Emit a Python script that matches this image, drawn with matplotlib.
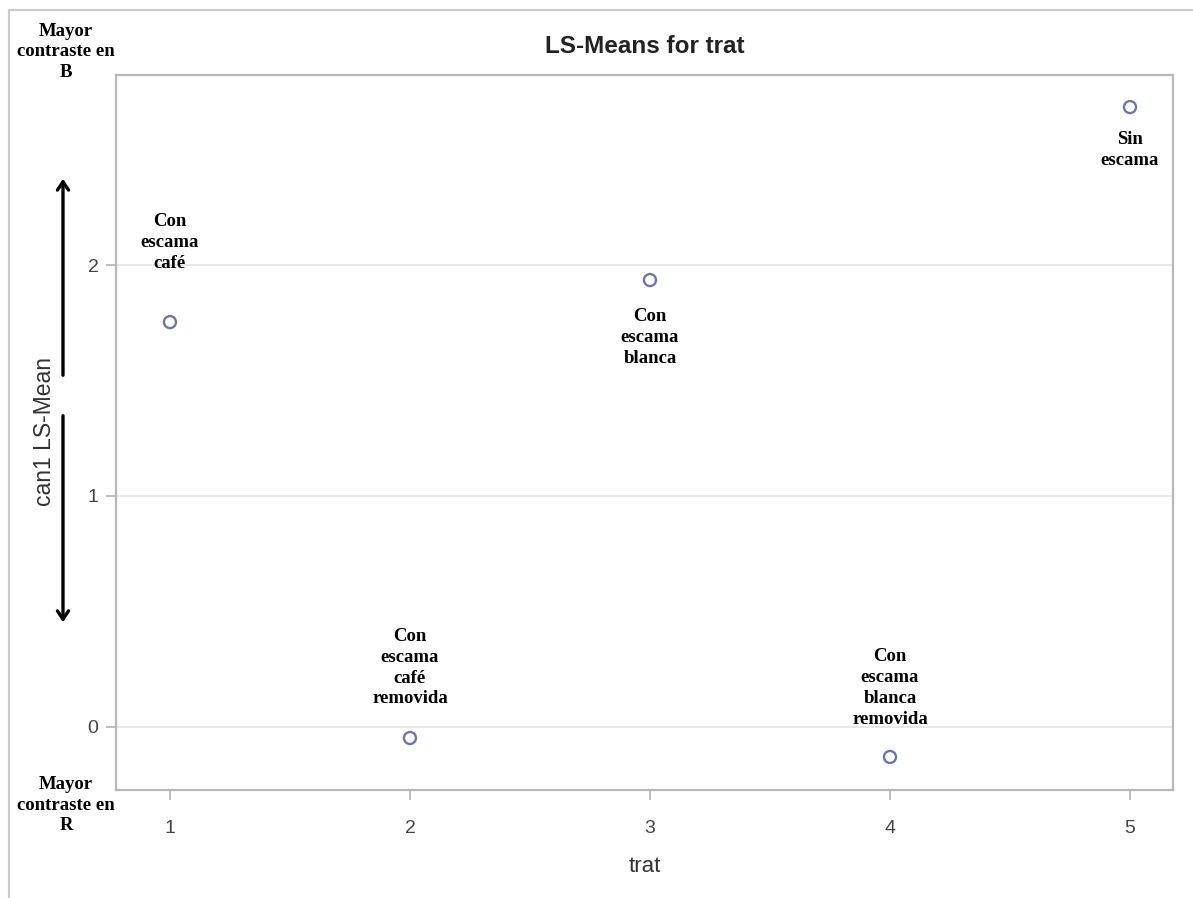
import matplotlib
matplotlib.use("Agg")
import matplotlib.pyplot as plt
from matplotlib.lines import Line2D

# Données
trat = [1, 2, 3, 4, 5]
can1_lsmean = [1.753, -0.048, 1.935, -0.13, 2.684]
etiquettes = [
    "Con\nescama\ncafé",
    "Con\nescama\ncafé\nremovida",
    "Con\nescama\nblanca",
    "Con\nescama\nblanca\nremovida",
    "Sin\nescama",
]
# décalage vertical des étiquettes (points) : + au-dessus, - en dessous
decalages = [36, 22, -20, 21, -17]
yticks = [0, 1, 2]
xticks = [1, 2, 3, 4, 5]

fig = plt.figure(figsize=(11.93, 8.98), dpi=100)
ax = fig.add_axes([0.0972, 0.1203, 0.886, 0.7962])

gris = "#b8b8b8"
sans = "Liberation Sans"
serif = dict(family="Liberation Serif", fontweight="bold", fontsize=13.5, linespacing=1.3)

ax.scatter(trat, can1_lsmean, s=75, facecolors="none", edgecolors="#6b76b0",
           linewidths=1.7, zorder=3)

for x, y, txt, d in zip(trat, can1_lsmean, etiquettes, decalages):
    ax.annotate(txt, (x, y), xytext=(0, d), textcoords="offset points",
                ha="center", va="bottom" if d > 0 else "top", color="black", **serif)

ax.set_xlim(0.775, 5.179)
ax.set_ylim(-0.273, 2.823)
ax.set_xticks(xticks)
ax.set_yticks(yticks)
ax.grid(axis="y", color="#e6e6e6", linewidth=1.3)
ax.set_axisbelow(True)
for sp in ax.spines.values():
    sp.set_color(gris)
    sp.set_linewidth(1.6)
ax.tick_params(colors=gris, labelcolor="#444444", labelsize=14, length=7.5, width=1.3)
ax.tick_params(axis="x", pad=14)
ax.tick_params(axis="y", pad=5)
for lab in ax.get_xticklabels() + ax.get_yticklabels():
    lab.set_family(sans)

ax.set_title("LS-Means for trat", fontsize=17.5, fontweight="bold", color="#222222",
             pad=16, family=sans)
ax.set_xlabel("trat", fontsize=16, color="#333333", labelpad=14, family=sans)
fig.text(45 / 1193, 1 - 432 / 898, "can1 LS-Mean", rotation=90, ha="center",
         va="center", fontsize=16.5, color="#333333", family=sans)

# Flèches et textes hors du graphique
def px(x, y):
    return (x / 1193, 1 - y / 898)

fig.add_artist(matplotlib.patches.FancyArrowPatch(px(63, 378), px(63, 176),
               arrowstyle="->,head_length=6,head_width=4", lw=2.4, color="black",
               transform=fig.transFigure))
fig.add_artist(matplotlib.patches.FancyArrowPatch(px(63, 413), px(63, 625),
               arrowstyle="->,head_length=6,head_width=4", lw=2.4, color="black",
               transform=fig.transFigure))

for y, txt in [(52, "Mayor\ncontraste en\nB"), (805, "Mayor\ncontraste en\nR")]:
    fig.text(*px(66, y), txt, ha="center", va="center", **serif)

# bordure extérieure (gauche et haut)
fig.add_artist(Line2D([9 / 1193, 9 / 1193], [0, 1 - 10 / 898], color="#cccccc", lw=1.5))
fig.add_artist(Line2D([9 / 1193, 1], [1 - 10 / 898, 1 - 10 / 898], color="#cccccc", lw=1.5))

fig.savefig("out.png", dpi=100)
